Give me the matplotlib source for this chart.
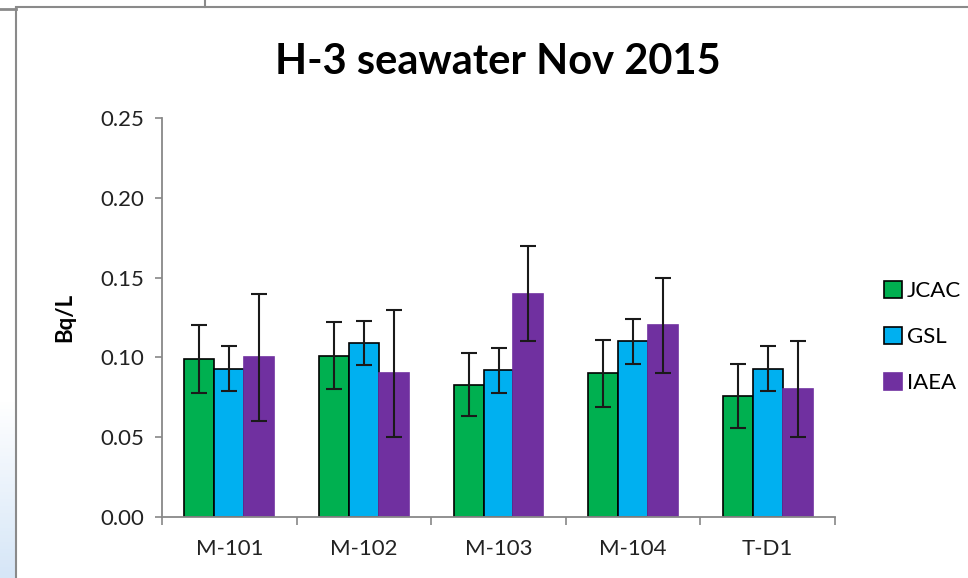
# H-3 seawater Nov 2015 -- grouped bars with error bars
import numpy as np
import matplotlib
matplotlib.use('Agg')
import matplotlib.pyplot as plt
from matplotlib.colors import LinearSegmentedColormap
from matplotlib.patches import Rectangle
from matplotlib.lines import Line2D

plt.rcParams['font.family'] = ['Lato', 'DejaVu Sans']

# --- Data ----------------------------------------------------------------------
stations = ['M-101', 'M-102', 'M-103', 'M-104', 'T-D1']
labs = ['JCAC', 'GSL', 'IAEA']

jcac = [0.099, 0.101, 0.083, 0.090, 0.076]
jcac_err = [0.021, 0.021, 0.020, 0.021, 0.020]
gsl = [0.093, 0.109, 0.092, 0.110, 0.093]
gsl_err = [0.014, 0.014, 0.014, 0.014, 0.014]
iaea = [0.10, 0.09, 0.14, 0.12, 0.08]
iaea_err = [0.04, 0.04, 0.03, 0.03, 0.03]

colors = ['#00B050', '#00B0F0', '#7030A0']
edges = ['black', 'black', '#7030A0']

yticks = [0.00, 0.05, 0.10, 0.15, 0.20, 0.25]

# --- Figure --------------------------------------------------------------------
W, H = 968, 578
fig = plt.figure(figsize=(W / 100, H / 100), dpi=100)
ax = fig.add_axes([162 / W, (H - 517) / H, (835 - 162) / W, (517 - 118) / H])

x = np.arange(len(stations))
width = 0.222
series = [(jcac, jcac_err), (gsl, gsl_err), (iaea, iaea_err)]
for i, (vals, errs) in enumerate(series):
    pos = x + (i - 1) * width
    ax.bar(pos, vals, width, color=colors[i], edgecolor=edges[i], linewidth=1.2,
           label=labs[i], zorder=2)
    ax.errorbar(pos, vals, yerr=errs, fmt='none', ecolor='#1a1a1a',
                elinewidth=1.5, capsize=6, capthick=1.5, zorder=3)

ax.set_xlim(-0.5, len(stations) - 0.5)
ax.set_ylim(0, 0.25)
ax.set_yticks(yticks)
ax.set_yticklabels([f'{t:.2f}' for t in yticks], fontsize=16, color='#222222')
ax.set_xticks(x)
ax.set_xticklabels(stations, fontsize=16, color='#222222')
ax.tick_params(axis='x', length=0, pad=16)
ax.tick_params(axis='y', length=5, width=1.2, color='#888888', pad=8)
# boundary ticks between categories
ax.set_xticks(np.arange(-0.5, len(stations)), minor=True)
ax.tick_params(axis='x', which='minor', length=6, width=1.2, color='#888888')

for side in ['top', 'right']:
    ax.spines[side].set_visible(False)
for side in ['left', 'bottom']:
    ax.spines[side].set_color('#888888')
    ax.spines[side].set_linewidth(1.3)

ax.set_ylabel('Bq/L', fontsize=16, fontweight='bold', labelpad=18)
fig.text(498 / W, 1 - 62 / H, 'H-3 seawater Nov 2015', ha='center', va='center',
         fontsize=30, fontweight='bold', color='black')

# legend
handles = [Rectangle((0, 0), 1, 1, facecolor=colors[i], edgecolor=edges[i], linewidth=1.2)
           for i in range(3)]
fig.legend(handles, labs, loc='center left', bbox_to_anchor=(875 / W, 1 - 337 / H),
           frameon=False, fontsize=16, handlelength=0.8, handleheight=0.8,
           handletextpad=0.25, labelspacing=1.15, borderaxespad=0)

# screenshot frame lines and bluish corner
grad = fig.add_axes([0, 0, 15 / W, 180 / H])
grad.imshow(np.linspace(0, 1, 50).reshape(-1, 1),
            cmap=LinearSegmentedColormap.from_list('bg', ['#ffffff', '#d6e6f7']),
            aspect='auto', extent=[0, 1, 0, 1])
grad.axis('off')
fig.add_artist(Line2D([16 / W, 16 / W], [0, 1 - 8 / H], transform=fig.transFigure,
                      color='#8a8a8a', lw=1.5))
fig.add_artist(Line2D([16 / W, 1], [1 - 7 / H, 1 - 7 / H], transform=fig.transFigure,
                      color='#8a8a8a', lw=1.5))
fig.add_artist(Line2D([0, 16 / W], [1 - 9 / H, 1 - 9 / H], transform=fig.transFigure,
                      color='#8a8a8a', lw=2))
fig.add_artist(Line2D([205 / W, 205 / W], [1 - 7 / H, 1], transform=fig.transFigure,
                      color='#8a8a8a', lw=1.5))

fig.savefig('out.png', dpi=100)
